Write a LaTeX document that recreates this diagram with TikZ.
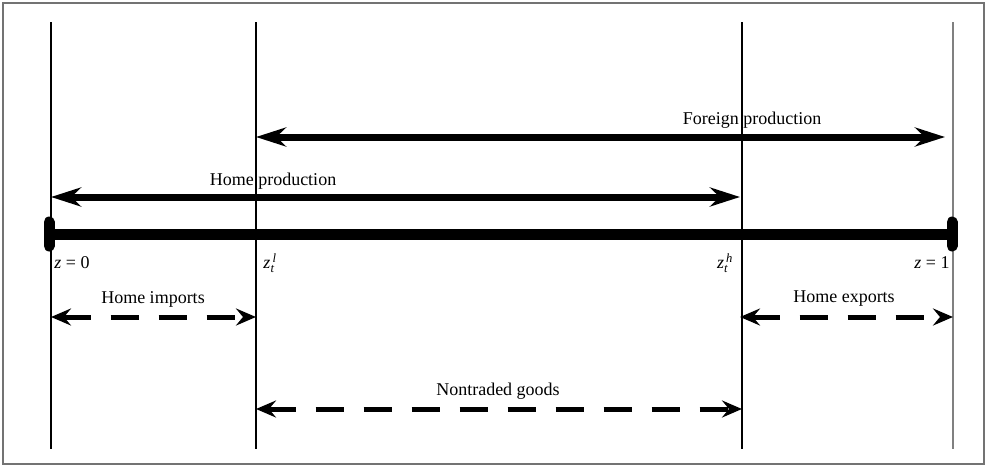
\documentclass[tikz,border=0pt]{standalone}
\usepackage{amsmath}
\usepackage{fontspec}
\setmainfont{Liberation Serif}
\usetikzlibrary{arrows.meta, positioning}
\tikzset{
    frame/.style={draw=black!55, line width=2pt},
    divider/.style={draw=black, line width=1.6pt},
    axis/.style={draw=black, line width=11pt},
    endcap/.style={draw=black, line width=11pt, line cap=round},
    prodarrow/.style={{Stealth[length=30pt,width=19pt]}-{Stealth[length=30pt,width=19pt]}, line width=7pt},
    tradearrow/.style={{Stealth[length=20pt,width=17pt,inset=7pt]}-{Stealth[length=20pt,width=17pt,inset=7pt]}, line width=5pt, dash pattern=on 28pt off 20pt},
    lbl/.style={font=\fontsize{18}{20}\selectfont, inner sep=0pt}
}

\begin{document}
\begin{tikzpicture}[x=1pt, y=-1pt]
        % --- Frame ---
        \useasboundingbox (0,0) rectangle (986,466);
        \draw [frame] (3,3) rectangle (984,464);

        % --- Cut-off points ---
        \coordinate (z0top) at (51,22);   \coordinate (z0bot) at (51,449);
        \coordinate (zltop) at (256,22);  \coordinate (zlbot) at (256,449);
        \coordinate (zhtop) at (742,22);  \coordinate (zhbot) at (742,449);
        \coordinate (z1top) at (953,22);  \coordinate (z1bot) at (953,449);

        \draw [divider] (z0top) -- (z0bot);
        \draw [divider] (zltop) -- (zlbot);
        \draw [divider] (zhtop) -- (zhbot);
        \draw [divider, draw=black!50] (z1top) -- (z1bot);

        % --- Continuum of goods ---
        \coordinate (barL) at (47,234);
        \coordinate (barR) at (953,234);
        \draw [axis] (barL) -- (barR);
        \draw [endcap] (49,222) -- (49,246);
        \draw [endcap] (952,222) -- (952,246);

        \node (zzero) [lbl] at (72,263) {\textit{z} = 0};
        \node (zlow) [lbl] at (270,263) {\textit{z}$_{\text{\itshape t}}^{\,\text{\itshape l}}$};
        \node (zhigh) [lbl] at (725,263) {\textit{z}$_{\text{\itshape t}}^{\,\text{\itshape h}}$};
        \node (zone) [lbl] at (932,263) {\textit{z} = 1};

        % --- Production ranges ---
        \coordinate (forL) at (256,137);
        \coordinate (forR) at (945,137);
        \coordinate (homL) at (51,197);
        \coordinate (homR) at (740,197);

        \draw [prodarrow] (forL) -- (forR);
        \draw [prodarrow] (homL) -- (homR);

        \node (foreign) [lbl] at (752,120) {Foreign production};
        \node (home) [lbl] at (273,181) {Home production};

        % --- Trade ranges ---
        \coordinate (impL) at (51,317);
        \coordinate (impR) at (256,317);
        \coordinate (expL) at (740,317);
        \coordinate (expR) at (953,317);
        \coordinate (nonL) at (256,409);
        \coordinate (nonR) at (742,409);

        \draw [tradearrow] (impL) -- (impR);
        \draw [tradearrow] (expL) -- (expR);
        \draw [tradearrow] (nonL) -- (nonR);

        \node (imports) [lbl] at (153,299) {Home imports};
        \node (exports) [lbl] at (844,299) {Home exports};
        \node (nontraded) [lbl] at (498,391) {Nontraded goods};
\end{tikzpicture}
\end{document}
